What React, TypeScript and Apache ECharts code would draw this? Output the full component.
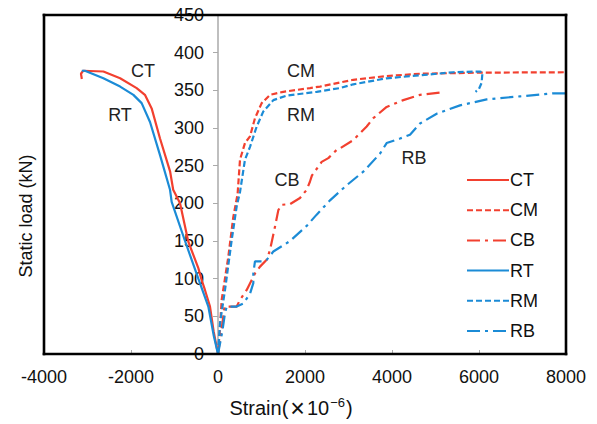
import React, { useEffect, useRef } from "react";
import * as echarts from "echarts";

const seriesNames = ["CT", "CM", "CB", "RT", "RM", "RB"];

const ctStrain = [0, -100, -184, -300, -375, -452, -682, -873, -1030, -1100, -1333, -1525, -1680, -1870, -2250, -2635, -3100, -3150, -3130];
const ctLoad = [0, 30, 63, 85, 98, 114, 149, 200, 218, 242, 286, 326, 344, 353, 366, 375, 376, 372, 365];

const rtStrain = [0, -100, -222, -452, -758, -1065, -1103, -1333, -1563, -1755, -1945, -2250, -2635, -3060, -3130];
const rtLoad = [0, 25, 63, 100, 150, 202, 218, 264, 308, 333, 344, 355, 366, 376, 376];

const cmStrain = [0, 40, 85, 237, 352, 450, 506, 620, 736, 850, 1004, 1195, 1500, 2115, 2345, 3110, 3877, 4644, 6023, 8000];
const cmLoad = [0, 30, 72, 129, 182, 212, 258, 280, 289, 313, 333, 344, 348, 353, 355, 364, 369, 372, 373.5, 374];

const rmStrain = [0, 46, 161, 314, 430, 506, 620, 736, 890, 1042, 1272, 1578, 2268, 2805, 3110, 3877, 4644, 5410, 6023, 6080, 6060, 6000, 5920];
const rmLoad = [0, 41, 85, 151, 196, 215, 258, 275, 302, 322, 337, 343, 348, 353, 358, 366, 370, 374, 375, 374, 360, 352, 348];

const cbStrain = [0, 100, 150, 430, 506, 660, 850, 966, 1119, 1195, 1310, 1387, 1463, 1655, 1885, 2038, 2115, 2160, 2383, 2536, 2728, 2805, 3110, 3418, 3570, 3877, 4260, 4644, 5103];
const cbLoad = [0, 40, 63, 63, 72, 85, 107, 116, 125, 138, 169, 191, 198, 199, 207, 218, 229, 237, 255, 260, 271, 273, 284, 302, 313, 328, 337, 344, 347];

const rbStrain = [0, 100, 160, 200, 430, 582, 736, 812, 812, 850, 1042, 1119, 1272, 1655, 2038, 2268, 2575, 2958, 3340, 3724, 3877, 4184, 4414, 4644, 5027, 5563, 6177, 6943, 7708, 8000];
const rbLoad = [0, 30, 54, 63, 63, 67, 80, 94, 107, 123, 123, 125, 136, 150, 170, 185, 204, 224, 242, 266, 280, 286, 291, 306, 319, 330, 338, 342, 346, 346];

const RED = "#f2402f";
const BLUE = "#1b8bd6";
const FONT = "Liberation Sans, Arial, sans-serif";

const GRID = { left: 44, right: 31, top: 15, bottom: 70 };
const W = 597;
const H = 424;

const zip = (xs: number[], ys: number[]) => xs.map((x, i) => [x, ys[i]]);

export default function App() {
  const ref = useRef<HTMLDivElement>(null);
  useEffect(() => {
    document.body.style.margin = "0";
    const chart = echarts.init(ref.current!, undefined, { renderer: "svg" });
    const mk = (name: string, data: number[][], color: string, type: any) => ({
      name,
      type: "line",
      data,
      symbol: "none",
      smooth: false,
      z: 3,
      lineStyle: { color, width: 2.2, type },
      itemStyle: { color },
    });
    const dash = [6, 3];
    const dashDot = [13, 5, 3, 5];
    const plotW = W - GRID.left - GRID.right;
    const plotH = H - GRID.top - GRID.bottom;
    const zeroOffset = -(plotW * 4000) / 12000;
    const T = 2.6;
    const x0 = GRID.left - T / 2;
    const y0 = GRID.top - T / 2;
    const edge = (x: number, y: number, w: number, h: number) => ({
      type: "rect",
      z: 100,
      silent: true,
      shape: { x, y, width: w, height: h },
      style: { fill: "#000" },
    });
    const lbl = (text: string, x: number, y: number) => ({
      type: "text",
      x,
      y,
      style: { text, font: `18px ${FONT}`, fill: "#222", align: "center", verticalAlign: "middle" },
    });
    chart.setOption({
      animation: false,
      grid: { ...GRID },
      xAxis: {
        type: "value",
        position: "bottom",
        min: -4000,
        max: 8000,
        interval: 2000,
        axisLine: { show: false, onZero: false },
        axisTick: { show: true, inside: true, length: 4, lineStyle: { color: "#aaa" } },
        axisLabel: { color: "#111", fontSize: 18, fontFamily: FONT, margin: 14, showMinLabel: true, showMaxLabel: true, formatter: (v: number) => String(v) },
        splitLine: { show: false },
      },
      yAxis: {
        type: "value",
        min: 0,
        max: 450,
        interval: 50,
        position: "left",
        offset: zeroOffset,
        axisLine: { show: true, onZero: false, lineStyle: { color: "#aaa", width: 1.5 } },
        axisTick: { show: true, length: 5, lineStyle: { color: "#aaa" } },
        axisLabel: { color: "#111", fontSize: 18, fontFamily: FONT, margin: 14, formatter: (v: number) => String(v) },
        splitLine: { show: false },
      },
      legend: {
        orient: "vertical",
        left: 461,
        top: 166,
        itemWidth: 42,
        itemHeight: 10,
        itemGap: 12.2,
        itemStyle: { opacity: 0 },
        textStyle: { color: "#111", fontSize: 18, fontFamily: FONT, padding: [0, 0, 0, -4] },
        data: seriesNames,
      },
      series: [
        mk("CT", zip(ctStrain, ctLoad), RED, "solid"),
        mk("CM", zip(cmStrain, cmLoad), RED, dash),
        mk("CB", zip(cbStrain, cbLoad), RED, dashDot),
        mk("RT", zip(rtStrain, rtLoad), BLUE, "solid"),
        mk("RM", zip(rmStrain, rmLoad), BLUE, dash),
        mk("RB", zip(rbStrain, rbLoad), BLUE, dashDot),
      ],
      graphic: [
        edge(x0, y0, plotW + T, T),
        edge(x0, y0 + plotH, plotW + T, T),
        edge(x0, y0, T, plotH + T),
        edge(x0 + plotW, y0, T, plotH + T),
        { type: "text", x: 26, y: 216, rotation: Math.PI / 2, style: { text: "Static load (kN)", font: `18px ${FONT}`, fill: "#111", align: "center", verticalAlign: "middle" } },
        {
          type: "text",
          x: 291,
          y: 408,
          style: {
            text: "{a|Strain(}{m|×}{a|10}{s|−6}{a|)}",
            align: "center",
            verticalAlign: "middle",
            rich: {
              a: { fontSize: 20, fontFamily: FONT, fill: "#111" },
              m: { fontSize: 25, fontFamily: FONT, fill: "#111", padding: [0, 2, 0, 2] },
              s: { fontSize: 13, fontFamily: FONT, fill: "#111", verticalAlign: "top", padding: [0, 1, 8, 1] },
            },
          },
        },
        lbl("CT", 143, 71),
        lbl("RT", 120, 115),
        lbl("CM", 301, 71),
        lbl("RM", 301, 115),
        lbl("CB", 287, 180),
        lbl("RB", 414, 158),
      ],
    });
    return () => chart.dispose();
  }, []);
  return <div ref={ref} style={{ width: W, height: H }} />;
}
